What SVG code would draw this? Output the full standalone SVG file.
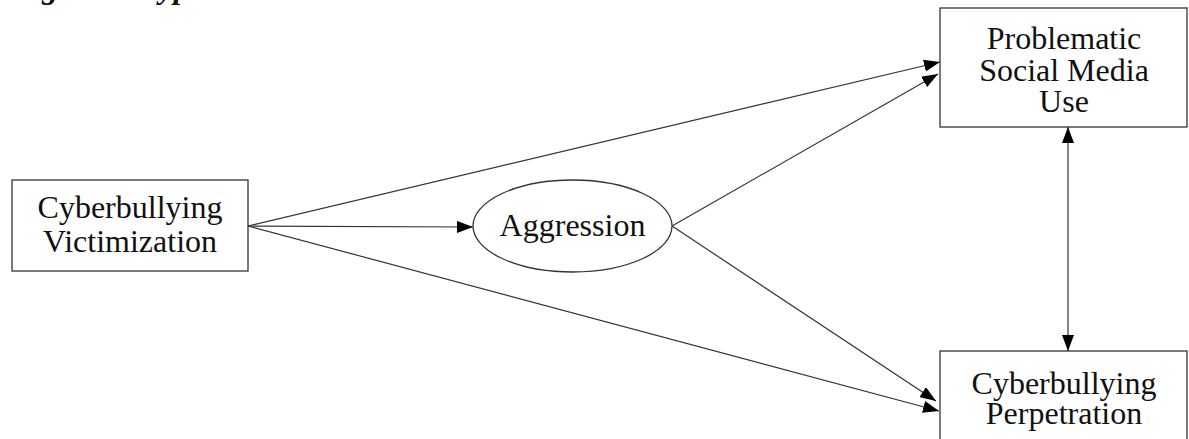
<svg xmlns="http://www.w3.org/2000/svg" width="1189" height="439" viewBox="0 0 1189 439">
<style>
.box{fill:#fff;stroke:#333;stroke-width:1.3}
.lbl{font-family:"Liberation Serif","Times New Roman",serif;font-size:32px;fill:#111;text-anchor:middle}
.cap{font-family:"Liberation Serif","Times New Roman",serif;font-size:32px;font-weight:bold;font-style:italic;fill:#111}
.edge{stroke:#333;stroke-width:1.2;fill:none}
</style>
<defs>
<marker id="ah" viewBox="0 0 16 12" refX="16" refY="6" markerWidth="16" markerHeight="12" markerUnits="userSpaceOnUse" orient="auto-start-reverse">
<path d="M0,0 L16,6 L0,12 Z" fill="#000"/>
</marker>
</defs>
<rect width="1189" height="439" fill="#fff"/>
<text class="cap" x="12" y="-2">Figure 1 Hypothesized Model</text>
<g id="connectors">
<line class="edge" x1="248" y1="226" x2="940" y2="62" marker-end="url(#ah)"/>
<line class="edge" x1="672" y1="226" x2="938" y2="74" marker-end="url(#ah)"/>
<line class="edge" x1="248" y1="226" x2="473" y2="227" marker-end="url(#ah)"/>
<line class="edge" x1="672" y1="226" x2="936" y2="401" marker-end="url(#ah)"/>
<line class="edge" x1="248" y1="226" x2="939" y2="411" marker-end="url(#ah)"/>
<line class="edge" x1="1068" y1="127" x2="1068" y2="351" marker-start="url(#ah)" marker-end="url(#ah)"/>
</g>
<g id="victimization">
<rect class="box" x="12" y="180" width="236" height="91"/>
<text class="lbl" x="130" y="218">Cyberbullying</text>
<text class="lbl" x="130" y="252">Victimization</text>
</g>
<g id="aggression">
<ellipse class="box" cx="572.5" cy="226" rx="99.5" ry="46"/>
<text class="lbl" x="572.5" y="236">Aggression</text>
</g>
<g id="psmu">
<rect class="box" x="940" y="8" width="247" height="119"/>
<text class="lbl" x="1064" y="49">Problematic</text>
<text class="lbl" x="1064" y="81">Social Media</text>
<text class="lbl" x="1064" y="112">Use</text>
</g>
<g id="perpetration">
<rect class="box" x="940" y="351" width="247" height="100"/>
<text class="lbl" x="1064" y="394">Cyberbullying</text>
<text class="lbl" x="1064" y="424">Perpetration</text>
</g>
</svg>
